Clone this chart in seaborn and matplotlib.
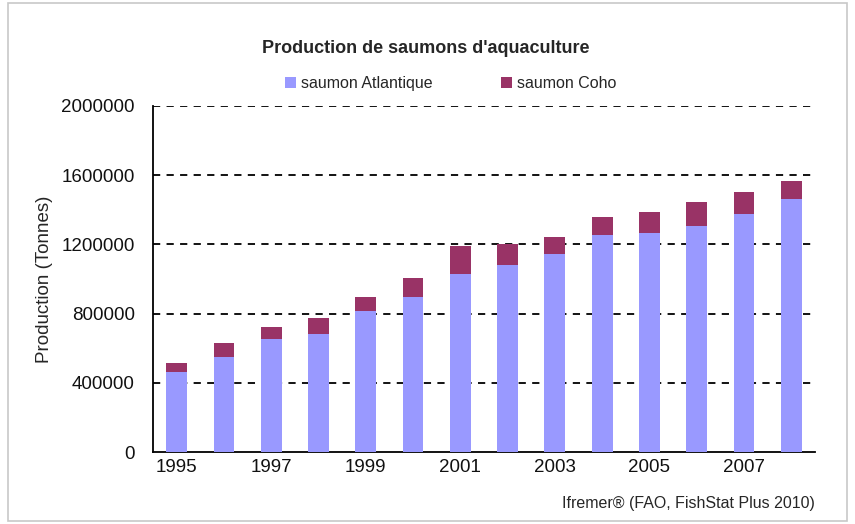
import matplotlib
matplotlib.use("Agg")
import matplotlib.pyplot as plt
import seaborn as sns
import pandas as pd
from matplotlib.patches import Rectangle, Patch

years = [1995, 1996, 1997, 1998, 1999, 2000, 2001, 2002, 2003, 2004, 2005, 2006, 2007, 2008]
atlantique = [464000, 551000, 651000, 680000, 813000, 898000, 1029000, 1081000, 1144000, 1252000, 1268000, 1308000, 1374000, 1461000]
coho = [54000, 77000, 73000, 96000, 85000, 108000, 163000, 119000, 101000, 108000, 117000, 139000, 127000, 105000]
y_ticks = [0, 400000, 800000, 1200000, 1600000, 2000000]

title = "Production de saumons d'aquaculture"
ylabel = "Production (Tonnes)"
source = "Ifremer® (FAO, FishStat Plus 2010)"
series_names = ["saumon Atlantique", "saumon Coho"]
col_atl = "#9999FF"
col_coho = "#993366"

df = pd.DataFrame({"year": [str(y) for y in years], "atl": atlantique,
                   "total": [a + c for a, c in zip(atlantique, coho)]})

sns.set_theme(style="white")
plt.rcParams["font.family"] = ["Liberation Sans", "DejaVu Sans"]

fig = plt.figure(figsize=(8.55, 5.24), dpi=100)
fig.patches.append(Rectangle((0.009, 0.006), 0.982, 0.988, transform=fig.transFigure,
                             fill=False, edgecolor="#c8c8c8", linewidth=1.2))
ax = fig.add_axes([0.179, 0.137, 0.774, 0.661])

sns.barplot(data=df, x="year", y="total", color=col_coho, saturation=1, width=0.44,
            linewidth=0, edgecolor="none", ax=ax, zorder=3)
sns.barplot(data=df, x="year", y="atl", color=col_atl, saturation=1, width=0.44,
            linewidth=0, edgecolor="none", ax=ax, zorder=3)

ax.set_xlim(-0.5, len(years) - 0.5)
ax.set_ylim(0, 2000000)
ax.set_yticks(y_ticks)
ax.set_yticklabels([str(v) for v in y_ticks], fontsize=13.5)
ax.set_xticks(range(len(years)))
ax.set_xticklabels([str(y) if i % 2 == 0 else "" for i, y in enumerate(years)], fontsize=13.5)
ax.set_xticks([i - 0.5 for i in range(len(years) + 1)], minor=True)
ax.tick_params(axis="x", which="major", length=0, pad=5, colors="#111111")
ax.tick_params(axis="x", which="minor", length=5, width=1.2, direction="out", color="black")
ax.tick_params(axis="y", length=8, width=1.2, direction="inout", pad=9, colors="#111111")
ax.tick_params(axis="y", color="black")
for yv in y_ticks[1:]:
    ax.axhline(yv, color="black", linestyle=(0, (4, 3.5)), linewidth=1.3, zorder=1)

for s in ["top", "right"]:
    ax.spines[s].set_visible(False)
for s in ["left", "bottom"]:
    ax.spines[s].set_color("black")
    ax.spines[s].set_linewidth(1.3)
ax.set_xlabel("")
ax.set_ylabel(ylabel, fontsize=13.5)
ax.yaxis.set_label_coords(-0.151, 0.5)

fig.text(0.498, 0.908, title, ha="center", va="center", fontsize=13, fontweight="bold")
handles = [Patch(facecolor=col_atl, edgecolor="none"), Patch(facecolor=col_coho, edgecolor="none")]
fig.legend(handles, series_names, loc="center", bbox_to_anchor=(0.527, 0.84), ncol=2,
           frameon=False, fontsize=11.5, handlelength=0.7, handleheight=0.7,
           handletextpad=0.3, columnspacing=4.3)
fig.text(0.953, 0.04, source, ha="right", va="center", fontsize=11.5)

fig.savefig("out.png", dpi=100)
